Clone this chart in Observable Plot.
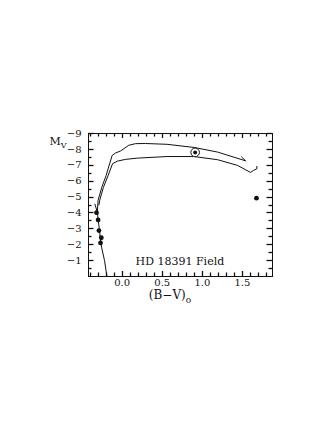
<!DOCTYPE html>
<html>
<head>
<meta charset="utf-8">
<script src="https://cdn.jsdelivr.net/npm/d3@7"></script>
<script src="https://cdn.jsdelivr.net/npm/@observablehq/plot@0.6"></script>
<style>
  body { margin: 0; background: #fff; }
  #chart { width: 332px; height: 430px; }
  svg text { font-family: "DejaVu Serif", "Liberation Serif", serif; }
</style>
</head>
<body>
<div id="chart"></div>
<script>
// Stars: (B-V)o and Mv
const starBV = [-0.32, -0.30, -0.29, -0.26, -0.27, 1.675];
const starMV = [-4.02, -3.56, -2.89, -2.44, -2.11, -4.93];
// Circled star
const circBV = [0.91];
const circMV = [-7.81];
// Main-sequence segment
const msBV = [-0.19, -0.22, -0.255, -0.27, -0.285, -0.30, -0.31, -0.34];
const msMV = [0.0, -1.0, -1.8, -2.3, -3.0, -3.6, -4.05, -4.55];
// Upper track
const upBV = [-0.31, -0.30, -0.255, -0.20, -0.125, -0.084, -0.02, 0.083, 0.166, 0.29, 0.56, 0.90, 1.19, 1.54, 1.49];
const upMV = [-4.05, -4.8, -5.6, -6.36, -7.62, -7.77, -7.9, -8.26, -8.36, -8.37, -8.32, -8.12, -7.83, -7.28, -7.52];
// Lower track
const loBV = [-0.29, -0.28, -0.235, -0.175, -0.12, -0.06, 0.04, 0.19, 0.56, 0.895, 1.19, 1.44, 1.60, 1.64, 1.68, 1.68];
const loMV = [-4.5, -4.8, -5.6, -6.36, -7.1, -7.26, -7.37, -7.45, -7.55, -7.55, -7.35, -6.99, -6.55, -6.68, -6.78, -6.93];
// Ticks
const xMajor = [0.0, 0.5, 1.0, 1.5];
const xMinor = [-0.4, -0.3, -0.2, -0.1, 0.1, 0.2, 0.3, 0.4, 0.6, 0.7, 0.8, 0.9, 1.1, 1.2, 1.3, 1.4, 1.6, 1.7, 1.8];
const yMajor = [-1, -2, -3, -4, -5, -6, -7, -8, -9];
const yMinor = [-0.5, -1.5, -2.5, -3.5, -4.5, -5.5, -6.5, -7.5, -8.5];
const fieldLabel = ["HD 18391 Field"];

const zip = (xs, ys) => xs.map((x, i) => ({x, y: ys[i]}));
const stars = zip(starBV, starMV);
const circ = zip(circBV, circMV);
const ms = zip(msBV, msMV);
const up = zip(upBV, upMV);
const lo = zip(loBV, loMV);

const ink = "#111";
const W = 332, H = 310, mL = 88, mR = 60, mT = 133, mB = 34;
const xDom = [-0.42, 1.875], yDom = [0, -9];
const plot = Plot.plot({
  width: W,
  height: H,
  marginLeft: mL,
  marginRight: mR,
  marginTop: mT,
  marginBottom: mB,
  style: {fontFamily: "DejaVu Serif, serif", fontSize: "10px", color: ink, background: "#fff"},
  x: {domain: xDom, axis: null},
  y: {domain: yDom, axis: null},
  marks: [
    Plot.frame({stroke: ink, strokeWidth: 1}),
    Plot.axisX({anchor: "bottom", ticks: xMajor, tickSize: 0, tickPadding: 2, tickFormat: d => d.toFixed(1), label: null, fontSize: 10}),
    Plot.axisY({anchor: "left", ticks: yMajor, tickSize: 0, tickPadding: 7, tickFormat: d => "\u2212" + Math.abs(d), label: null, fontSize: 10}),
    Plot.line(ms, {x: "x", y: "y", stroke: ink, strokeWidth: 1, clip: true}),
    Plot.line(up, {x: "x", y: "y", stroke: ink, strokeWidth: 1, clip: true}),
    Plot.line(lo, {x: "x", y: "y", stroke: ink, strokeWidth: 1, clip: true}),
    Plot.dot(stars, {x: "x", y: "y", r: 2.4, fill: ink, stroke: "none"}),
    Plot.dot(circ, {x: "x", y: "y", r: 4.3, fill: "#fff", stroke: ink, strokeWidth: 1}),
    Plot.dot(circ, {x: "x", y: "y", r: 2, fill: ink, stroke: "none"}),
    Plot.text(fieldLabel, {x: () => 0.72, y: () => -0.95, text: d => d, fontSize: 11, fill: ink, textAnchor: "middle", lineAnchor: "middle"})
  ]
});
document.getElementById("chart").appendChild(plot);

(function () {
  const svg = d3.select(plot);
  // Inward ticks on all four sides, positioned with Plot's own scales
  try {
    const sx = plot.scale("x"), sy = plot.scale("y");
    const xLeftPx = sx.apply(xDom[0]), xRightPx = sx.apply(xDom[1]);
    const yBottomPx = sy.apply(yDom[0]), yTopPx = sy.apply(yDom[1]);
    const g = svg.append("g").attr("stroke", ink).attr("stroke-width", 1.3).attr("fill", "none");
    const addX = (ticks, len) => ticks.forEach(v => {
      const x = Math.round(sx.apply(v)) + 0.5;
      g.append("line").attr("x1", x).attr("x2", x).attr("y1", yBottomPx).attr("y2", yBottomPx - len);
      g.append("line").attr("x1", x).attr("x2", x).attr("y1", yTopPx).attr("y2", yTopPx + len);
    });
    const addY = (ticks, len) => ticks.forEach(v => {
      const y = Math.round(sy.apply(v)) + 0.5;
      g.append("line").attr("y1", y).attr("y2", y).attr("x1", xLeftPx).attr("x2", xLeftPx + len);
      g.append("line").attr("y1", y).attr("y2", y).attr("x1", xRightPx).attr("x2", xRightPx - len);
    });
    addX(xMajor, 5); addX(xMinor, 3.5);
    addY(yMajor, 5.5); addY(yMinor, 3.5);
  } catch (e) { console.error(e); }

  // Axis titles with subscripts
  const mt = svg.append("text").attr("x", 58).attr("y", 145).attr("fill", ink).attr("font-size", 11)
    .attr("font-family", "DejaVu Serif, serif");
  mt.append("tspan").text("M");
  mt.append("tspan").attr("dy", 3).attr("font-size", 8).text("V");
  const xt = svg.append("text").attr("x", 170).attr("y", 299).attr("fill", ink).attr("font-size", 12)
    .attr("font-family", "DejaVu Serif, serif");
  xt.append("tspan").text("(B\u2212V)");
  xt.append("tspan").attr("dy", 4).attr("font-size", 9).text("o");
})();
</script>
</body>
</html>
